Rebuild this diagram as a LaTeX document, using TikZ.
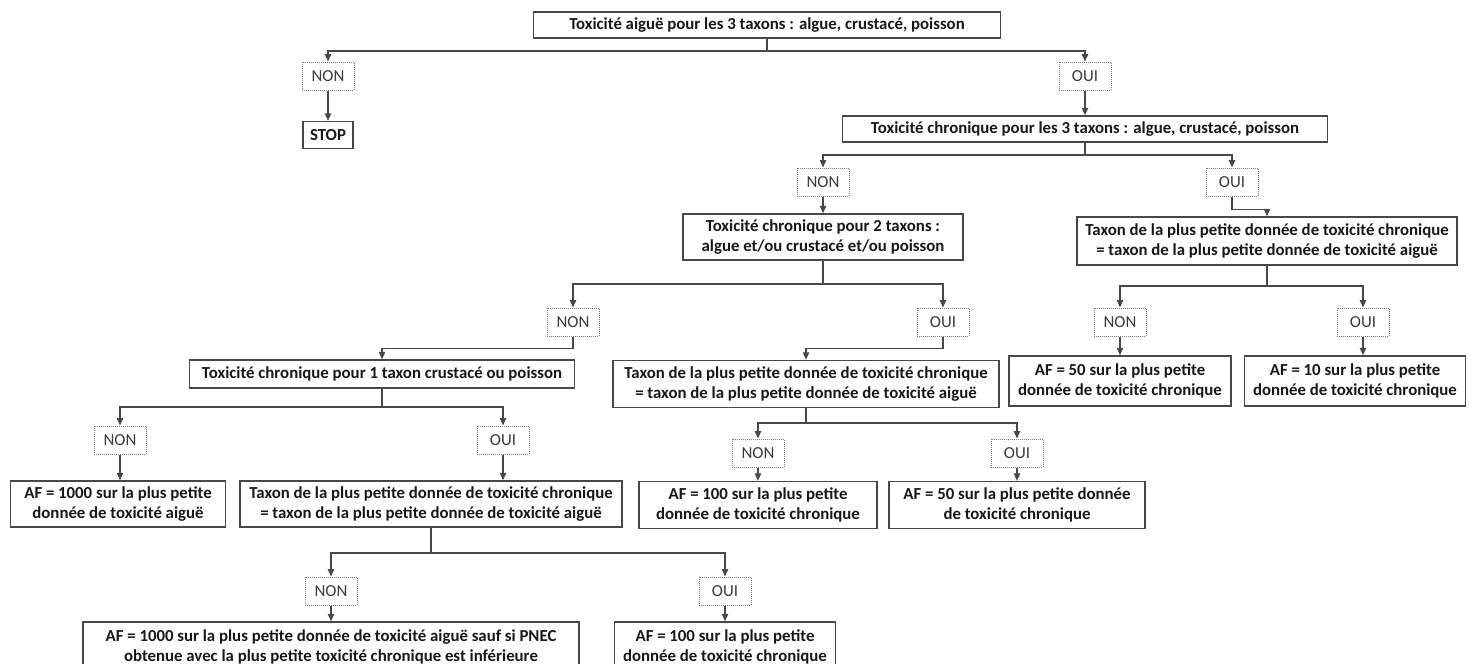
\documentclass[tikz,border=0pt]{standalone}
\usepackage{fontspec}
\setmainfont{Carlito}
\usetikzlibrary{arrows.meta,positioning}
\definecolor{linegray}{HTML}{484848}
\definecolor{dotgray}{HTML}{7A7A7A}
\definecolor{inkgray}{HTML}{181818}
\newcommand{\boxfont}{\fontsize{16.8pt}{19.5pt}\selectfont}

\begin{document}
\begin{tikzpicture}[x=1pt,y=-1pt,
	>={Triangle[length=7.5pt,width=6.5pt]},
	color=linegray,line width=1.2pt,
	box/.style={draw=linegray,line width=1.5pt,fill=white,text=inkgray,align=center,
		font=\boxfont\bfseries,inner sep=1pt},
	choice/.style={draw=dotgray,densely dotted,line width=1pt,fill=white,text=inkgray!85,
		font=\boxfont,minimum width=52pt,minimum height=28pt,inner sep=1pt}]

	\useasboundingbox (0,0) rectangle (1470,664);

	\coordinate (j1) at (767,51);
	\coordinate (j2) at (1085,155);
	\coordinate (j3) at (823,284);
	\coordinate (j3R) at (1267,286);
	\coordinate (j4) at (382,407);
	\coordinate (j4M) at (806,423);
	\coordinate (j5) at (431,553);

	\node[box,minimum width=467pt,minimum height=26pt] (tox3a) at (767,25) {Toxicité aiguë pour les 3 taxons : algue, crustacé, poisson};
	\node[choice] (non1) at (328,76) {NON};
	\node[box,minimum width=50pt,minimum height=27pt] (stop) at (328,135) {STOP};
	\node[choice] (oui1) at (1085,76) {OUI};
	\node[box,minimum width=485pt,minimum height=26pt] (chr3) at (1085,129) {Toxicité chronique pour les 3 taxons : algue, crustacé, poisson};

	\node[choice] (non2) at (823,182) {NON};
	\node[choice] (oui2) at (1232,182) {OUI};
	\node[box,minimum width=280pt,minimum height=46pt] (chr2) at (823,237) {Toxicité chronique pour 2 taxons :\\ algue et/ou crustacé et/ou poisson};
	\node[box,minimum width=380pt,minimum height=48pt] (taxR) at (1267,241) {Taxon de la plus petite donnée de toxicité chronique\\ = taxon de la plus petite donnée de toxicité aiguë};

	\node[choice] (non3) at (573,322) {NON};
	\node[choice] (oui3) at (943,322) {OUI};
	\node[choice] (non3R) at (1120,322) {NON};
	\node[choice] (oui3R) at (1363,322) {OUI};
	\node[box,minimum width=385pt,minimum height=28pt] (chr1) at (382,374) {Toxicité chronique pour 1 taxon crustacé ou poisson};
	\node[box,minimum width=386pt,minimum height=47pt] (taxM) at (806,384) {Taxon de la plus petite donnée de toxicité chronique\\ = taxon de la plus petite donnée de toxicité aiguë};
	\node[box,minimum width=222pt,minimum height=50pt] (af50R) at (1120,381) {AF = 50 sur la plus petite\\ donnée de toxicité chronique};
	\node[box,minimum width=221pt,minimum height=50pt] (af10R) at (1355,381) {AF = 10 sur la plus petite\\ donnée de toxicité chronique};

	\node[choice] (non4) at (120,440) {NON};
	\node[choice] (oui4) at (503,440) {OUI};
	\node[choice] (non4M) at (758,453) {NON};
	\node[choice] (oui4M) at (1017,453) {OUI};
	\node[box,minimum width=215pt,minimum height=46pt] (af1000) at (118,504) {AF = 1000 sur la plus petite\\ donnée de toxicité aiguë};
	\node[box,minimum width=382pt,minimum height=46pt] (taxB) at (431,504) {Taxon de la plus petite donnée de toxicité chronique\\ = taxon de la plus petite donnée de toxicité aiguë};
	\node[box,minimum width=238pt,minimum height=47pt] (af100M) at (758,505) {AF = 100 sur la plus petite\\ donnée de toxicité chronique};
	\node[box,minimum width=256pt,minimum height=47pt] (af50M) at (1017,505) {AF = 50 sur la plus petite donnée\\ de toxicité chronique};

	\node[choice] (non5) at (331,591) {NON};
	\node[choice] (oui5) at (725,591) {OUI};
	\node[box,minimum width=496pt,minimum height=50pt] (af1000L) at (331,647) {AF = 1000 sur la plus petite donnée de toxicité aiguë sauf si PNEC\\ obtenue avec la plus petite toxicité chronique est inférieure};
	\node[box,minimum width=221pt,minimum height=50pt] (af100B) at (725,647) {AF = 100 sur la plus petite\\ donnée de toxicité chronique};

	\draw [->] (tox3a) -- (j1) -| (non1);
	\draw [->] (j1) -| (oui1);
	\draw [->] (non1) -- (stop);
	\draw [->] (oui1) -- (chr3);

	\draw [->] (chr3) -- (j2) -| (non2);
	\draw [->] (j2) -| (oui2);
	\draw [->] (non2) -- (non2 |- chr2.north);
	\draw [->] (oui2.south) -- ++(0,13) -| (taxR);

	\draw [->] (chr2) -- (j3) -| (non3);
	\draw [->] (j3) -| (oui3);
	\draw [->] (non3.south) -- ++(0,12) -| (chr1);
	\draw [->] (oui3.south) -- ++(0,12) -| (taxM);
	\draw [->] (taxR) -- (j3R) -| (non3R);
	\draw [->] (j3R) -| (oui3R);
	\draw [->] (non3R) -- (af50R);
	\draw [->] (oui3R) -- (oui3R |- af10R.north);

	\draw [->] (chr1) -- (j4) -| (non4);
	\draw [->] (j4) -| (oui4);
	\draw [->] (non4) -- (non4 |- af1000.north);
	\draw [->] (oui4) -- (oui4 |- taxB.north);
	\draw [->] (taxM) -- (j4M) -| (non4M);
	\draw [->] (j4M) -| (oui4M);
	\draw [->] (non4M) -- (af100M);
	\draw [->] (oui4M) -- (af50M);

	\draw [->] (taxB) -- (j5) -| (non5);
	\draw [->] (j5) -| (oui5);
	\draw [->] (non5) -- (af1000L);
	\draw [->] (oui5) -- (af100B);

\end{tikzpicture}
\end{document}
